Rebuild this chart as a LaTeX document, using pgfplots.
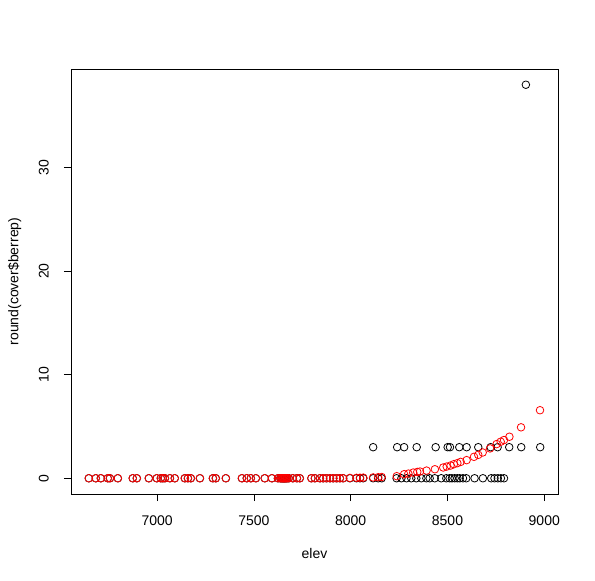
\documentclass[border=0pt]{standalone}
\usepackage{pgfplots}
\pgfplotsset{compat=1.18}
\usepackage{fontspec}
\setmainfont{Liberation Sans}
\begin{document}
\fontsize{14bp}{16bp}\selectfont
\begin{tikzpicture}
\useasboundingbox (-71bp,-87bp) rectangle (524bp,494bp);
\begin{axis}[
  at={(0,0)}, anchor=south west,
  scale only axis, width=487bp, height=425bp,
  xmin=6555, xmax=9071, ymin=-1.52, ymax=39.52,
  xtick={7000,7500,8000,8500,9000},
  ytick={0,10,20,30},
  xtick pos=bottom, ytick pos=left,
  tick align=outside, major tick length=7bp,
  tick style={black, line width=0.8bp},
  axis line style={black, line width=0.8bp},
  /pgf/number format/assume math mode=true,
  /pgf/number format/1000 sep={},
  xticklabel style={anchor=north, inner sep=0pt, font=\fontsize{14bp}{16bp}\selectfont},
  yticklabel style={rotate=90, anchor=south, inner sep=0pt, font=\fontsize{14bp}{16bp}\selectfont},
  xticklabel shift=15bp, yticklabel shift=15bp,
  xlabel={elev}, ylabel={round(cover\$berrep)},
  xlabel style={at={(axis description cs:0.5,-0.1529)}, anchor=base, inner sep=0pt, font=\fontsize{14bp}{16bp}\selectfont},
  ylabel style={at={(axis description cs:-0.1082,0.5)}, anchor=base, inner sep=0pt, rotate=0, font=\fontsize{14bp}{16bp}\selectfont},
  clip=false,
]
% observed
\addplot[only marks, mark=o, mark size=3.8bp, black, line width=0.8bp] coordinates {
(6647,0)(6683,0)(6709,0)(6745,0)(6756,0)(6797,0)(6874,0)(6895,0)(6957,0)(6998,0)
(7019,0)(7029,0)(7040,0)(7066,0)(7091,0)(7143,0)(7159,0)(7174,0)(7221,0)(7288,0)
(7303,0)(7355,0)(7438,0)(7463,0)(7484,0)(7510,0)(7556,0)(7593,0)(7624,0)(7636,0)
(7641,0)(7646,0)(7650,0)(7654,0)(7658,0)(7662,0)(7667,0)(7672,0)(7680,0)(7701,0)
(7722,0)(7737,0)(7797,0)(7815,0)(7841,0)(7858,0)(7875,0)(7893,0)(7910,0)(7927,0)
(7944,0)(7961,0)
(7996,0)(8030,0)(8048,0)(8065,0)(8116,0)(8142,0)(8160,0)(8237,0)(8262,0)(8288,0)
(8313,0)(8339,0)(8365,0)(8391,0)(8408,0)(8434,0)(8468,0)(8494,0)(8511,0)(8523,0)
(8537,0)(8551,0)(8563,0)(8580,0)(8597,0)(8640,0)(8683,0)(8726,0)(8743,0)(8760,0)
(8776,0)(8792,0)
(8116,3)(8240,3)(8276,3)(8341,3)(8439,3)(8501,3)(8513,3)(8561,3)(8599,3)(8659,3)
(8723,3)(8759,3)(8819,3)(8881,3)(8979,3)
(8905,38)
};
% predicted
\addplot[only marks, mark=o, mark size=3.8bp, red, line width=0.8bp] coordinates {
(6647,0)(6683,0)(6709,0)(6745,0)(6756,0)(6797,0)(6874,0)(6895,0)(6957,0)(6998,0)
(7019,0)(7029,0)(7040,0)(7066,0)(7091,0)(7143,0)(7159,0)(7174,0)(7221,0)(7288,0)
(7303,0)(7355,0)(7438,0)(7463,0)(7484,0)(7510,0)(7556,0)(7593,0)(7624,0)(7636,0)
(7641,0)(7646,0)(7650,0)(7654,0)(7658,0)(7662,0)(7667,0)(7672,0)(7680,0)(7701,0)
(7722,0)(7737,0)(7797,0)(7815,0)(7841,0)(7858,0)(7875,0)(7893,0)(7910,0)(7927,0)
(7944,0)(7961,0)
(7996,0.03)(8030,0.04)(8048,0.05)(8065,0.06)(8116,0.08)(8142,0.1)(8160,0.12)
(8238,0.2)(8276,0.39)(8298,0.45)(8323,0.55)(8344,0.61)(8358,0.65)(8392,0.74)
(8435,0.87)(8478,1.04)(8496,1.13)(8516,1.23)(8533,1.36)(8551,1.46)(8568,1.58)
(8599,1.75)(8637,2.07)(8659,2.26)(8682,2.49)(8720,2.88)(8754,3.3)(8775,3.53)
(8792,3.69)(8820,4.01)(8880,4.92)(8978,6.57)
};
\end{axis}
\end{tikzpicture}
\end{document}
